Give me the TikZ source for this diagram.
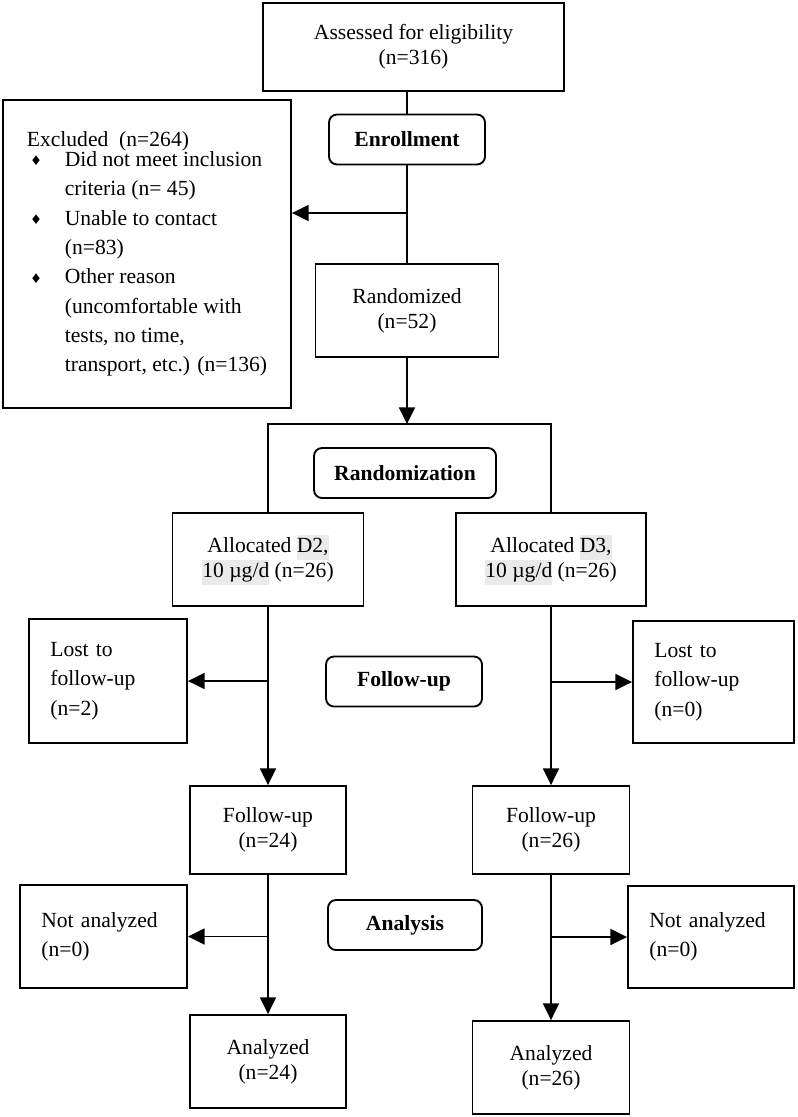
\documentclass[tikz,border=0pt]{standalone}
\usepackage{fontspec}
\setmainfont{Liberation Serif}
\newfontfamily\symfont{DejaVu Sans}
\usetikzlibrary{arrows.meta}

\definecolor{hlgray}{RGB}{234,234,234}
\newcommand{\hlbox}[1]{{\setlength{\fboxsep}{0pt}\colorbox{hlgray}{\rule[-5.5pt]{0pt}{18.75pt}#1}}}
\newcommand{\dmd}{\makebox[28.5pt][l]{\hspace{2.5pt}\raisebox{0.5pt}{\symfont\fontsize{10}{10}\selectfont ♦}}}
\newcommand{\ind}{\hspace*{28.5pt}}

\begin{document}
\begin{tikzpicture}[x=0.75pt,y=0.75pt,yscale=-1,xscale=1,
        box/.style={draw, line width=1.4pt, align=center, inner sep=0pt, font=\fontsize{16.2}{18.75}\selectfont},
        sidebox/.style={box, align=left, inner xsep=16pt, font=\fontsize{16.2}{22}\selectfont},
        stage/.style={box, rounded corners=6pt, font=\bfseries\fontsize{16.2}{18.75}\selectfont, minimum width=117pt, minimum height=37.5pt},
        link/.style={line width=1.2pt},
        arr/.style={link, -{Triangle[length=12.5pt,width=12pt]}}]
        \useasboundingbox (0,0) rectangle (797,1117);
        
        %Shape: Rectangle
        \node[box, minimum width=225.75pt, minimum height=66pt] (assess) at (413.5,47) {Assessed for eligibility\\(n=316)};
        %Shape: Rounded Rect
        \node[stage] (enroll) at (407,139.5) {Enrollment};
        %Shape: Rectangle
        \node[box, align=left, font=\fontsize{16.2}{22}\selectfont, minimum width=216pt, minimum height=231pt] (excl) at (147,254) {Excluded\ \ (n=264)\\[-7pt]
            \dmd Did not meet inclusion\\
            \ind criteria (n=\ 45)\\
            \dmd Unable to contact\\
            \ind (n=83)\\
            \dmd Other reason\\
            \ind (uncomfortable with\\
            \ind tests, no time,\\
            \ind transport, etc.) (n=136)};
        %Shape: Rectangle
        \node[box, minimum width=137.25pt, minimum height=69.75pt] (rand) at (407,310.5) {Randomized\\(n=52)};
        %Shape: Rounded Rect
        \node[stage, minimum width=136.5pt] (rndz) at (405,473) {Randomization};
        
        %Shape: Rectangle
        \node[box, minimum width=143.25pt, minimum height=69.75pt] (alloc2) at (268,559.5) {Allocated \hlbox{D2,}\\\hlbox{10 µg/d} (n=26)};
        %Shape: Rectangle
        \node[box, minimum width=142.5pt, minimum height=69.75pt] (alloc3) at (551,559.5) {Allocated \hlbox{D3,}\\\hlbox{10 µg/d} (n=26)};
        %Shape: Rectangle
        \node[sidebox, text width=86.5pt, minimum height=93pt] (lost2) at (108,681) {Lost to\\follow-up\\(n=2)};
        %Shape: Rounded Rect
        \node[stage] (fulbl) at (404,681.5) {Follow-up};
        %Shape: Rectangle
        \node[sidebox, text width=88.75pt, minimum height=91.5pt] (lost3) at (713.5,682) {Lost to\\follow-up\\(n=0)};
        %Shape: Rectangle
        \node[box, minimum width=117pt, minimum height=66pt] (fu2) at (268,830) {Follow-up\\(n=24)};
        %Shape: Rectangle
        \node[box, minimum width=117.75pt, minimum height=66pt] (fu3) at (551,830) {Follow-up\\(n=26)};
        %Shape: Rectangle
        \node[sidebox, text width=93.25pt, minimum height=77.25pt] (na2) at (103.5,936.5) {Not analyzed\\(n=0)};
        %Shape: Rounded Rect
        \node[stage, minimum width=115.5pt] (analbl) at (405,925) {Analysis};
        %Shape: Rectangle
        \node[sidebox, text width=92.5pt, minimum height=76.5pt] (na3) at (711,937) {Not analyzed\\(n=0)};
        %Shape: Rectangle
        \node[box, minimum width=117pt, minimum height=69.75pt] (an2) at (268,1061.5) {Analyzed\\(n=24)};
        %Shape: Rectangle
        \node[box, minimum width=117.75pt, minimum height=69.75pt] (an3) at (551,1067.5) {Analyzed\\(n=26)};
        
        %Straight Lines
        \coordinate (j1) at (407,213);
        \coordinate (split) at (407,424);
        \draw[link] (assess.south -| enroll.north) -- (enroll.north);
        \draw[link] (enroll.south) -- (rand.north);
        \draw[arr] (j1) -- (j1 -| excl.east);
        \draw[arr] (rand.south) -- (split);
        \draw[link] (alloc2.north) |- (split) -| (alloc3.north);
        %Straight Lines
        \draw[arr] (alloc2.south) -- (fu2.north);
        \draw[arr] (alloc2.south |- lost2.east) -- (lost2.east);
        \draw[arr] (alloc3.south) -- (fu3.north);
        \draw[arr] (alloc3.south |- lost3.west) -- (lost3.west);
        %Straight Lines
        \draw[arr] (fu2.south) -- (an2.north);
        \draw[arr] (fu2.south |- na2.east) -- (na2.east);
        \draw[arr] (fu3.south) -- (an3.north);
        \draw[arr] (fu3.south |- na3.west) -- (na3.west);
    \end{tikzpicture}
\end{document}
